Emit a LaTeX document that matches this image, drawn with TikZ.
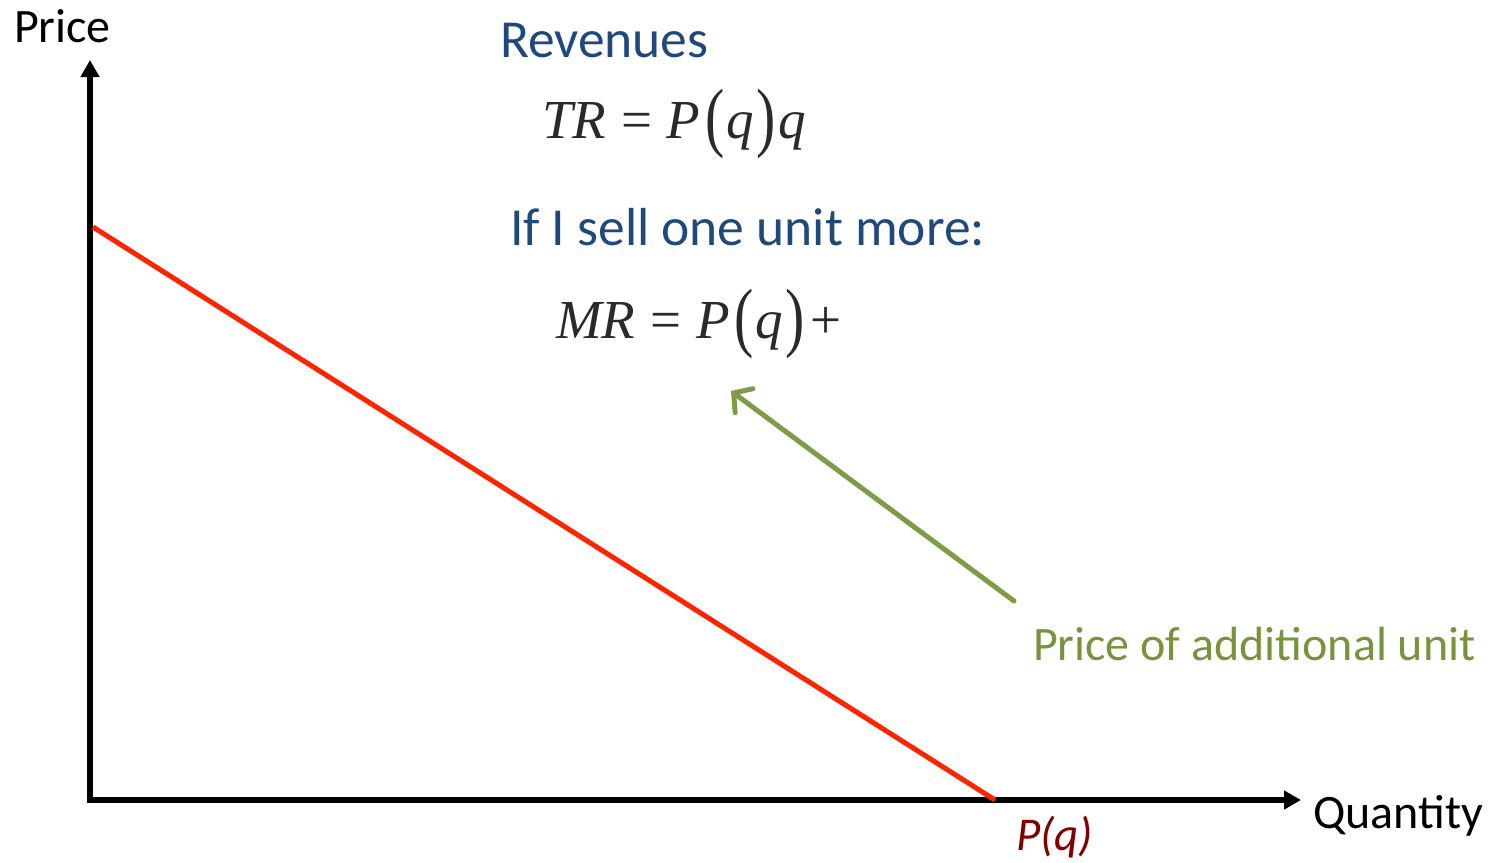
\documentclass[tikz,border=0pt]{standalone}
\usepackage{fontspec}
\usepackage{graphicx}
\setmainfont{Carlito}
\newfontfamily\eqfont{Liberation Serif}
\usetikzlibrary{arrows.meta}
\definecolor{axisblack}{HTML}{000000}
\definecolor{titleblue}{HTML}{1F497D}
\definecolor{olivegreen}{HTML}{77933C}
\definecolor{arrowgreen}{HTML}{7E9C46}
\definecolor{demandred}{HTML}{FF2400}
\definecolor{darkred}{HTML}{800000}
\definecolor{eqgray}{HTML}{2A2A2A}
\newcommand\tallpar[1]{\raisebox{-4pt}{\scalebox{1.05}[1.4]{\upshape #1}}}
\newcommand\eqgap{\hspace{0.27em}}
\tikzset{
  axisline/.style={line width=6pt, draw=axisblack, -{Triangle[length=17pt,width=18pt]}},
  demand/.style={line width=5pt, draw=demandred},
  pointer/.style={line width=5pt, draw=arrowgreen, line cap=round, -{Straight Barb[length=13pt,width=30pt,line cap=round]}},
  lbl/.style={anchor=base west, inner sep=0pt, outer sep=0pt},
  axislabel/.style={lbl, font=\fontsize{48}{50}\selectfont, text=black},
  heading/.style={lbl, font=\fontsize{53.5}{56}\selectfont, text=titleblue},
  eq/.style={lbl, font=\fontsize{55}{60}\selectfont\eqfont, text=eqgray},
}
\begin{document}
\begin{tikzpicture}[x=1pt,y=-1pt]
\useasboundingbox (0,0) rectangle (1495,862);
% axes
\coordinate (O) at (90,800);
\coordinate (Ytop) at (90,60);
\coordinate (Xend) at (1301,800);
\draw[axisline] (90,803) -- (Ytop);
\draw[axisline] (87,800) -- (Xend);
% demand line
\coordinate (D1) at (93,227);
\coordinate (D2) at (995,800);
\draw[demand] (D1) -- (D2);
% labels
\node[axislabel] (price) at (14,42) {Price};
\node[axislabel] (quantity) at (1313,828) {Quantity};
\node[lbl, font=\fontsize{47}{50}\selectfont\itshape, text=darkred] (pq) at (1016,850) {P(q)};
\node[heading] (rev) at (500,57) {Revenues};
\node[heading] (sell) at (510,245) {If I sell one unit more:};
\node[eq] (tr) at (542,138) {\itshape TR\eqgap\upshape=\eqgap\itshape P\hspace{5pt}\tallpar{(}\hspace{2pt}\itshape q\hspace{2pt}\tallpar{)}\hspace{3pt}\itshape q};
\node[eq] (mr) at (556,338) {\itshape MR\eqgap\upshape=\eqgap\itshape P\hspace{5pt}\tallpar{(}\hspace{2pt}\itshape q\hspace{2pt}\tallpar{)}\hspace{6pt}\upshape +};
\node[lbl, font=\fontsize{48}{50}\selectfont, text=olivegreen] (addl) at (1033,660) {Price of additional unit};
% pointer arrow
\coordinate (g1) at (1014,601);
\coordinate (g2) at (731,391);
\draw[pointer] (g1) -- (g2);
\end{tikzpicture}
\end{document}
